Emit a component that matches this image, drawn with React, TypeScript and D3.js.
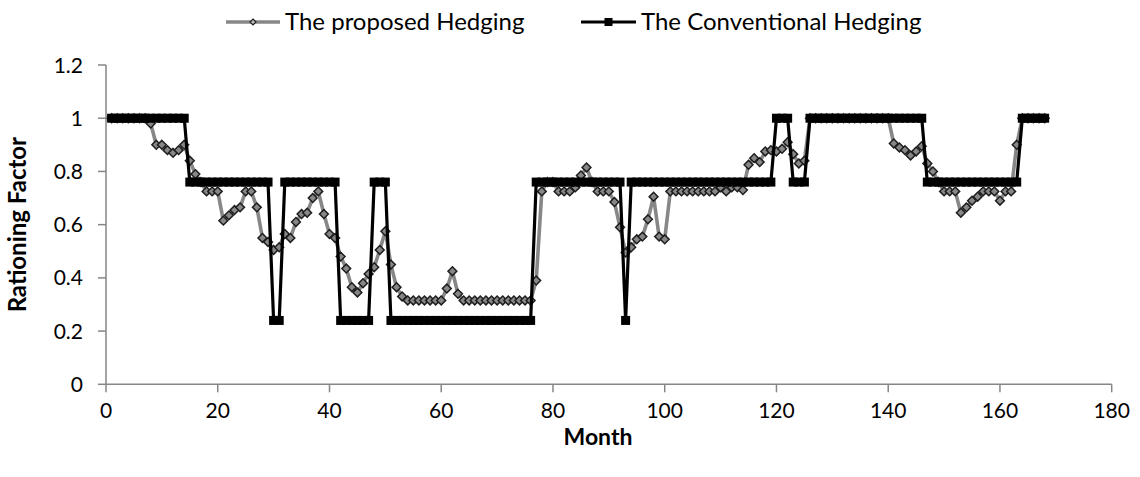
import React from 'react';
import * as d3 from 'd3';

const months: number[] = [
  1, 2, 3, 4, 5, 6, 7, 8, 9, 10, 11, 12, 13, 14, 15, 16, 17, 18, 19, 20,
  21, 22, 23, 24, 25, 26, 27, 28, 29, 30, 31, 32, 33, 34, 35, 36, 37, 38, 39, 40,
  41, 42, 43, 44, 45, 46, 47, 48, 49, 50, 51, 52, 53, 54, 55, 56, 57, 58, 59, 60,
  61, 62, 63, 64, 65, 66, 67, 68, 69, 70, 71, 72, 73, 74, 75, 76, 77, 78, 79, 80,
  81, 82, 83, 84, 85, 86, 87, 88, 89, 90, 91, 92, 93, 94, 95, 96, 97, 98, 99, 100,
  101, 102, 103, 104, 105, 106, 107, 108, 109, 110, 111, 112, 113, 114, 115, 116, 117, 118, 119, 120,
  121, 122, 123, 124, 125, 126, 127, 128, 129, 130, 131, 132, 133, 134, 135, 136, 137, 138, 139, 140,
  141, 142, 143, 144, 145, 146, 147, 148, 149, 150, 151, 152, 153, 154, 155, 156, 157, 158, 159, 160,
  161, 162, 163, 164, 165, 166, 167, 168,
];

const proposed: number[] = [
  1, 1, 1, 1, 1, 1, 1, 0.98, 0.9, 0.9,
  0.88, 0.87, 0.88, 0.9, 0.84, 0.79, 0.76, 0.725, 0.725, 0.725,
  0.615, 0.635, 0.655, 0.665, 0.725, 0.725, 0.665, 0.55, 0.535, 0.505,
  0.515, 0.565, 0.55, 0.61, 0.64, 0.645, 0.7, 0.725, 0.64, 0.565,
  0.55, 0.48, 0.435, 0.365, 0.345, 0.38, 0.415, 0.44, 0.505, 0.575,
  0.45, 0.365, 0.33, 0.315, 0.315, 0.315, 0.315, 0.315, 0.315, 0.315,
  0.36, 0.425, 0.34, 0.315, 0.315, 0.315, 0.315, 0.315, 0.315, 0.315,
  0.315, 0.315, 0.315, 0.315, 0.315, 0.315, 0.39, 0.725, 0.76, 0.76,
  0.725, 0.725, 0.725, 0.74, 0.785, 0.815, 0.76, 0.725, 0.725, 0.725,
  0.685, 0.59, 0.495, 0.515, 0.545, 0.555, 0.62, 0.705, 0.555, 0.545,
  0.725, 0.725, 0.725, 0.725, 0.725, 0.725, 0.725, 0.725, 0.725, 0.74,
  0.725, 0.74, 0.74, 0.73, 0.825, 0.85, 0.835, 0.875, 0.88, 0.875,
  0.885, 0.91, 0.865, 0.83, 0.84, 1, 1, 1, 1, 1,
  1, 1, 1, 1, 1, 1, 1, 1, 1, 1,
  0.905, 0.89, 0.88, 0.86, 0.875, 0.895, 0.83, 0.8, 0.76, 0.725,
  0.725, 0.725, 0.645, 0.665, 0.69, 0.705, 0.725, 0.725, 0.725, 0.69,
  0.725, 0.725, 0.9, 1, 1, 1, 1, 1,
];

const conventional: number[] = [
  1, 1, 1, 1, 1, 1, 1, 1, 1, 1,
  1, 1, 1, 1, 0.76, 0.76, 0.76, 0.76, 0.76, 0.76,
  0.76, 0.76, 0.76, 0.76, 0.76, 0.76, 0.76, 0.76, 0.76, 0.24,
  0.24, 0.76, 0.76, 0.76, 0.76, 0.76, 0.76, 0.76, 0.76, 0.76,
  0.76, 0.24, 0.24, 0.24, 0.24, 0.24, 0.24, 0.76, 0.76, 0.76,
  0.24, 0.24, 0.24, 0.24, 0.24, 0.24, 0.24, 0.24, 0.24, 0.24,
  0.24, 0.24, 0.24, 0.24, 0.24, 0.24, 0.24, 0.24, 0.24, 0.24,
  0.24, 0.24, 0.24, 0.24, 0.24, 0.24, 0.76, 0.76, 0.76, 0.76,
  0.76, 0.76, 0.76, 0.76, 0.76, 0.76, 0.76, 0.76, 0.76, 0.76,
  0.76, 0.76, 0.24, 0.76, 0.76, 0.76, 0.76, 0.76, 0.76, 0.76,
  0.76, 0.76, 0.76, 0.76, 0.76, 0.76, 0.76, 0.76, 0.76, 0.76,
  0.76, 0.76, 0.76, 0.76, 0.76, 0.76, 0.76, 0.76, 0.76, 1,
  1, 1, 0.76, 0.76, 0.76, 1, 1, 1, 1, 1,
  1, 1, 1, 1, 1, 1, 1, 1, 1, 1,
  1, 1, 1, 1, 1, 1, 0.76, 0.76, 0.76, 0.76,
  0.76, 0.76, 0.76, 0.76, 0.76, 0.76, 0.76, 0.76, 0.76, 0.76,
  0.76, 0.76, 0.76, 1, 1, 1, 1, 1,
];

const xTicks: number[] = [0, 20, 40, 60, 80, 100, 120, 140, 160, 180];
const yTicks: number[] = [0, 0.2, 0.4, 0.6, 0.8, 1, 1.2];
const yTickLabels: string[] = ['0', '0.2', '0.4', '0.6', '0.8', '1', '1.2'];
const seriesNames: string[] = ['The proposed Hedging', 'The Conventional Hedging'];
const xTitle = 'Month';
const yTitle = 'Rationing Factor';

const FONT = 'Lato, "Open Sans", sans-serif';
const AXIS = '#868686';
const GRAY = '#878787';

export default function App() {
  const W = 1140;
  const H = 477;
  const x = d3.scaleLinear().domain([0, 180]).range([106, 1111.7]);
  const y = d3.scaleLinear().domain([0, 1.2]).range([384.3, 65]);

  const propPts = months.map((m, i) => [x(m), y(proposed[i])] as [number, number]);
  const convPts = months.map((m, i) => [x(m), y(conventional[i])] as [number, number]);
  const line = d3.line();

  const diamond = (cx: number, cy: number, r: number) =>
    `M${cx},${cy - r}L${cx + r},${cy}L${cx},${cy + r}L${cx - r},${cy}Z`;

  const legY = 22;
  const leg1 = { x0: 226, x1: 280, tx: 285 };
  const leg2 = { x0: 581, x1: 636, tx: 641 };

  return (
    <svg
      width={W}
      height={H}
      viewBox={`0 0 ${W} ${H}`}
      style={{ position: 'absolute', left: 0, top: 0, display: 'block', background: '#fff' }}
      fontFamily={FONT}
    >
      <rect x={0} y={0} width={W} height={H} fill="#fff" />

      {/* y axis */}
      <line x1={x(0)} x2={x(0)} y1={y(0)} y2={y(1.2)} stroke={AXIS} strokeWidth={1.5} />
      {yTicks.map((t, i) => (
        <g key={'yt' + i}>
          <line x1={x(0) - 8} x2={x(0)} y1={y(t)} y2={y(t)} stroke={AXIS} strokeWidth={1.5} />
          <text x={83} y={y(t) + 7.5} fontSize={21} textAnchor="end" fill="#000">
            {yTickLabels[i]}
          </text>
        </g>
      ))}

      {/* x axis */}
      <line x1={x(0)} x2={x(180)} y1={y(0)} y2={y(0)} stroke={AXIS} strokeWidth={1.5} />
      {xTicks.map((t) => (
        <g key={'xt' + t}>
          <line x1={x(t)} x2={x(t)} y1={y(0)} y2={y(0) + 8} stroke={AXIS} strokeWidth={1.5} />
          <text x={x(t)} y={417.5} fontSize={21} textAnchor="middle" fill="#000">
            {t}
          </text>
        </g>
      ))}

      <text x={598} y={445} fontSize={23} fontWeight="bold" textAnchor="middle">
        {xTitle}
      </text>
      <text
        transform={`translate(26,${(y(0) + y(1.2)) / 2}) rotate(-90)`}
        fontSize={24}
        fontWeight="bold"
        textAnchor="middle"
      >
        {yTitle}
      </text>

      {/* proposed series */}
      <path d={line(propPts) || ''} fill="none" stroke={GRAY} strokeWidth={3.6} strokeLinejoin="round" />
      {propPts.map(([px, py], i) => (
        <path key={'pd' + i} d={diamond(px, py, 4.4)} fill={GRAY} stroke="#1e1e1e" strokeWidth={1.5} />
      ))}

      {/* conventional series */}
      <path d={line(convPts) || ''} fill="none" stroke="#000" strokeWidth={3.2} strokeLinejoin="round" />
      {convPts.map(([px, py], i) => (
        <rect key={'cs' + i} x={px - 4.5} y={py - 4.5} width={9} height={9} fill="#000" />
      ))}

      {/* legend */}
      <line x1={leg1.x0} x2={leg1.x1} y1={legY} y2={legY} stroke={GRAY} strokeWidth={3.6} />
      <path d={diamond((leg1.x0 + leg1.x1) / 2, legY, 3)} fill="#bbb" stroke="#1e1e1e" strokeWidth={1.2} />
      <text x={leg1.tx} y={legY + 8} fontSize={24} fill="#000">
        {seriesNames[0]}
      </text>

      <line x1={leg2.x0} x2={leg2.x1} y1={legY} y2={legY} stroke="#000" strokeWidth={3.2} />
      <rect x={(leg2.x0 + leg2.x1) / 2 - 4} y={legY - 4} width={8} height={8} fill="#000" />
      <text x={leg2.tx} y={legY + 8} fontSize={24} fill="#000">
        {seriesNames[1]}
      </text>
    </svg>
  );
}
